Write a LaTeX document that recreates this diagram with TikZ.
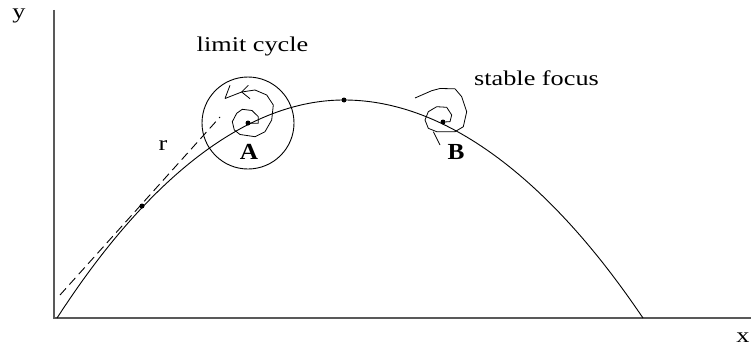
\documentclass[tikz,border=0pt]{standalone}
\usepackage{fontspec}
\setmainfont{Liberation Serif}
\begin{document}
\begin{tikzpicture}[x=1pt,y=-1pt,
  axis/.style={draw=black!65,line width=1.3pt},
  curve/.style={draw=black,line width=0.9pt},
  dot/.style={circle,fill=black,inner sep=0pt,minimum size=5pt},
  lbl/.style={font=\fontsize{21}{24}\selectfont,inner sep=0pt,anchor=base,xscale=1.25},
  bl/.style={font=\fontsize{23}{26}\selectfont\bfseries,inner sep=0pt,xscale=1.1},
  spiral/.style={draw=black,line width=0.8pt,line join=round}]
\useasboundingbox (0,0) rectangle (751,353);
% axes
\coordinate (ytop) at (54,10);
\coordinate (orig) at (54,318);
\coordinate (xend) at (751,318);
\draw[axis] (ytop) -- (orig) -- (xend);
\node[lbl] (ylab) at (19,19) {y};
\node[lbl] (xlab) at (743,342) {x};
% parabola
\coordinate (c0) at (57,318);
\coordinate (ctop) at (344,100);
\coordinate (c1) at (643,318);
\draw[curve] (c0) parabola bend (ctop) (c1);
% dots
\node[dot] (p1) at (142,206) {};
\node[dot] (pA) at (248,123) {};
\node[dot] (pT) at (344,100) {};
\node[dot] (pB) at (443,122) {};
% tangent r
\coordinate (r0) at (60,295);
\coordinate (r1) at (220,117);
\draw[curve,dash pattern=on 9pt off 5pt] (r0) -- (r1);
\node[lbl] (rlab) at (163,150) {r};
% limit cycle
\draw[curve] (pA) circle[radius=46];
\draw[spiral] (pA) -- (258.3,123.3) -- (258.3,116.7) -- (252,110.5) -- (242.3,109.3)
  -- (236.7,113.3) -- (232.3,121.7) -- (234.3,130) -- (240,134.5) -- (255,136.7)
  -- (265,131.7) -- (271.7,120) -- (273.3,105) -- (266.7,95) -- (255,90)
  -- (241.7,92) -- (225,98.5);
\draw[spiral] (248.3,85.3) -- (241.7,92) -- (250,98.7);
\draw[spiral] (230,85.3) -- (225,98.5);
\node[lbl] (lc) at (252.5,52) {limit cycle};
\node[bl] (Alab) at (249,152) {A};
% stable focus
\draw[spiral] (415,98) -- (431.7,90.7) -- (440,88.5) -- (455,88.8) -- (461.7,96.7)
  -- (466.7,111.7) -- (463.3,126.7) -- (455,131.7) -- (436.7,131.7) -- (428.3,128.3)
  -- (425,120) -- (428.3,111.7) -- (436.7,106.7) -- (446.7,107.3) -- (451.7,115)
  -- (450,121.7) -- (pB);
\draw[spiral] (433.3,131.7) -- (440,145);
\node[lbl] (sf) at (536.5,85) {stable focus};
\node[bl] (Blab) at (456,152) {B};
\end{tikzpicture}
\end{document}
